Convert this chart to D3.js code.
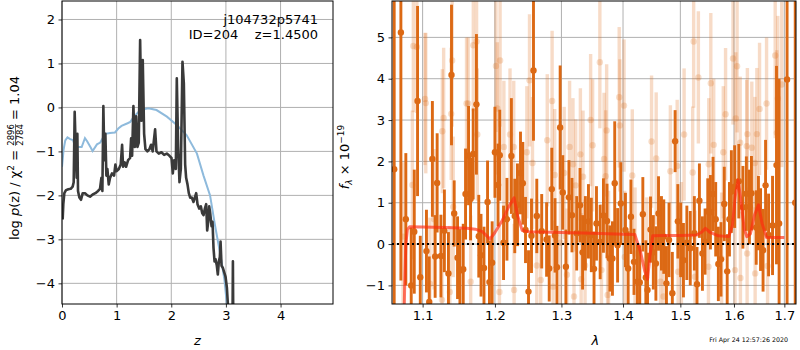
<!DOCTYPE html>
<html>
<head>
<meta charset="utf-8">
<script src="https://cdn.jsdelivr.net/npm/d3@7"></script>
<style>
  body { margin: 0; background: #fff; }
  svg { display: block; font-family: "DejaVu Sans", sans-serif; }
</style>
</head>
<body>
<svg id="chart" width="800" height="350"></svg>
<script>
// ---- p(z) panel ----
const zPz = [0.012, 0.024, 0.043, 0.073, 0.116, 0.159, 0.195, 0.214, 0.232, 0.25, 0.269, 0.281, 0.293, 0.318,
  0.348, 0.379, 0.421, 0.464, 0.513, 0.562, 0.611, 0.66, 0.696, 0.721, 0.739, 0.757, 0.776, 0.794, 0.812,
  0.831, 0.855, 0.88, 0.916, 0.953, 0.977, 1.0, 1.04, 1.075, 1.1, 1.118, 1.148, 1.173, 1.21, 1.246, 1.265,
  1.283, 1.307, 1.332, 1.356, 1.381, 1.405, 1.43, 1.454, 1.478, 1.503, 1.527, 1.564, 1.6, 1.63, 1.66, 1.704,
  1.729, 1.772, 1.82, 1.869, 1.918, 1.967, 2.004, 2.028, 2.053, 2.083, 2.101, 2.126, 2.15, 2.175, 2.205,
  2.23, 2.254, 2.272, 2.297, 2.321, 2.346, 2.376, 2.407, 2.431, 2.456, 2.48, 2.511, 2.541, 2.566, 2.59,
  2.615, 2.639, 2.657, 2.676, 2.694, 2.712, 2.737, 2.755, 2.773, 2.792, 2.81, 2.834, 2.852, 2.871, 2.889,
  2.902, 2.92, 2.944, 2.969, 2.993, 3.018, 3.042, 3.08, 3.115, 3.128, 3.14]
const logPz = [-2.55, -2.2, -1.95, -1.88, -1.86, -1.85, -1.8, -1.7, -0.1, -0.9, -1.6, -0.6, -1.9, -2.05,
  -2.1, -1.95, -1.95, -2.0, -2.03, -1.98, -1.95, -1.9, -1.85, -1.6, -1.9, 0.03, -1.2, -0.6, -1.55,
  -1.4, -1.75, -1.6, -1.5, -1.55, -1.3, -1.45, -1.4, -1.3, -0.85, -1.35, -1.25, -1.35, -1.2, -1.15, -0.7,
  -1.1, 0.03, -0.9, -0.2, -0.9, -0.8, 1.53, -0.3, 1.08, -0.6, -0.95, -1.0, -0.95, -0.85, -1.0, -0.5,
  -1.0, -1.05, -1.02, -1.08, -1.05, -1.1, -1.15, -1.5, -1.2, -1.4, 0.66, -0.9, -1.7, -1.4, 1.04,
  0.55, -1.3, -1.6, -1.75, -1.95, -2.05, -2.05, -2.15, -2.05, -1.95, -2.2, -2.3, -2.25, -2.4, -2.45,
  -2.3, -2.2, -2.8, -2.6, -2.25, -2.4, -2.7, -2.6, -3.2, -3.5, -3.45, -3.6, -3.8, -3.5, -3.4,
  -3.05, -3.6, -3.65, -3.75, -3.85, -4.1, -4.6, -6, -6, -3.5, -6]

const zChi = [0.0, 0.03, 0.06, 0.1, 0.15, 0.2, 0.24, 0.3, 0.36, 0.42, 0.46, 0.52, 0.56, 0.64, 0.7, 0.79,
  0.88, 0.97, 1.03, 1.09, 1.2, 1.25, 1.31, 1.43, 1.58, 1.73, 1.92, 2.1, 2.28, 2.47, 2.59, 2.71, 2.8,
  2.9, 2.97, 3.02, 3.06]
const chiCurve = [-1.35, -0.95, -0.75, -0.68, -0.72, -0.74, -0.88, -0.9, -0.9, -0.7, -0.77, -0.9, -0.99,
  -0.84, -0.8, -0.6, -0.58, -0.57, -0.48, -0.42, -0.36, -0.33, -0.22, -0.06, -0.02, -0.06, -0.21, -0.4,
  -0.63, -1.05, -1.55, -2.0, -2.68, -3.36, -3.89, -4.5, -5.2]

const zTicks = [0, 1, 2, 3, 4]
const pzTicks = [-4, -3, -2, -1, 0, 1, 2]

// ---- spectrum panel ----
const lamDark = [1.0630, 1.0716, 1.0780, 1.0850, 1.0890, 1.0933, 1.0969, 1.1051, 1.1088, 1.1130, 1.1167,
  1.1194, 1.1245, 1.1292, 1.1347, 1.1389, 1.1426, 1.1472, 1.1505, 1.1551, 1.1583, 1.1625, 1.1653, 1.1690,
  1.1736, 1.1769, 1.1801, 1.1843, 1.1894, 1.1921, 1.1960, 1.2000, 1.2045, 1.2070, 1.2125, 1.2175, 1.2240,
  1.2290, 1.2330, 1.2375, 1.2410, 1.2450, 1.2495, 1.2540, 1.2570, 1.2620, 1.2695, 1.2770, 1.2810, 1.2850,
  1.2900, 1.2930, 1.2980, 1.3021, 1.3070, 1.3118, 1.3166, 1.3241, 1.3294, 1.3335, 1.3380, 1.3430, 1.3476,
  1.3520, 1.3560, 1.3620, 1.3674, 1.3733, 1.3781, 1.3823, 1.3861, 1.3909, 1.3963, 1.4041, 1.4087, 1.4134,
  1.4186, 1.4244, 1.4285, 1.4338, 1.4390, 1.4419, 1.4471, 1.4520, 1.4565, 1.4611, 1.4663, 1.4704, 1.4751,
  1.4797, 1.4856, 1.4906, 1.4955, 1.5006, 1.5056, 1.5118, 1.5180, 1.5255, 1.5304, 1.5348, 1.5404, 1.5453,
  1.5503, 1.5553, 1.5602, 1.5652, 1.5702, 1.5752, 1.5814, 1.5870, 1.5913, 1.5950, 1.6013, 1.6093, 1.6173,
  1.6240, 1.6300, 1.6340, 1.6434, 1.6478, 1.6520, 1.6570, 1.6620, 1.6680, 1.6760, 1.6840, 1.6893, 1.7056,
  1.7224]
const fluxDark = [1.81, 5.12, 0.60, -1.00, 0.30, 3.46, -0.80, -0.17, -1.40, 2.06, -0.30,
  1.48, -0.29, 0.32, -0.71, 4.09, 0.74, -0.33, -0.64, -0.61, 1.21, 2.14, 1.09, 2.18,
  3.38, 0.19, -0.27, -0.58, 1.02, -0.92, -0.45, 2.22, 1.43, 2.15, 0.03, 0.60, 2.13,
  0.68, 0.95, 1.72, 1.47, 0.34, -1.15, 0.20, 4.20, 0.68, 0.31, 0.11, -0.59, 1.33,
  0.21, -0.56, 2.82, 1.25, -0.55, 1.13, 0.70, 0.26, 0.94, -0.20, 0.26, 0.55, 0.22,
  -0.60, 0.50, 0.05, 0.69, 0.56, -0.35, -0.35, 1.47, -0.03, 0.98, 0.34, -0.59, 0.66,
  -0.43, -0.91, -0.93, 0.72, -0.81, -1.11, 0.35, -0.20, -0.47, 0.74, 0.26, 0.18, -0.95,
  0.10, -1.19, 2.49, 0.55, 0.10, -0.39, 0.03, -0.10, 0.26, -0.97, 1.05, -0.23, 0.06,
  0.79, 0.77, 1.21, 0.60, -0.48, -0.37, 0.97, -0.66, 0.60, 1.27, 1.39, 1.52, 0.89,
  1.22, 0.90, 1.23, 0.40, 0.75, 0.35, -0.15, 1.42, 0.22, 0.45, 1.91, 0.50, 3.98,
  1.00]
const errDark = [5, 6, 1.6, 1.4, 1.5, 2.3, 1.0, 1.0, 1.1, 1.4, 1.0,
  1.2, 1.0, 1.0, 1.0, 1.7, 0.8, 1.0, 1.0, 1.1, 1.1, 1.2, 1.0, 1.1,
  1.7, 1.0, 1.0, 1.0, 1.0, 1.0, 1.0, 1.1, 1.0, 1.1, 0.9, 1.0, 1.4,
  0.9, 1.0, 1.0, 1.0, 0.8, 1.0, 0.9, 1.7, 0.9, 0.9, 0.9, 0.8, 1.0,
  0.9, 1.0, 1.5, 0.9, 0.9, 0.9, 0.9, 0.9, 0.9, 0.9, 0.9, 0.9, 0.9,
  0.9, 0.9, 0.9, 0.9, 0.9, 0.8, 0.9, 1.5, 0.9, 1.0, 0.9, 0.9, 0.9,
  0.8, 0.9, 0.9, 0.9, 0.9, 0.9, 0.8, 0.9, 0.9, 0.9, 0.9, 0.9, 0.9,
  0.9, 1.0, 0.75, 0.9, 0.9, 0.9, 0.9, 0.9, 0.9, 0.9, 0.9, 0.9, 0.8,
  0.8, 0.9, 0.9, 0.9, 0.9, 0.9, 0.9, 0.9, 0.9, 1.0, 1.0, 0.9, 1.0,
  0.9, 0.9, 0.9, 0.9, 0.9, 1.0, 1.0, 1.1, 1.0, 1.2, 2.4, 3.5, 8,
  8]

const lamLight = [1.0744, 1.0865, 1.0878, 1.0924, 1.1032, 1.1042, 1.1097, 1.1153, 1.1259, 1.1264, 1.1282,
  1.1366, 1.1385, 1.1398, 1.1412, 1.1597, 1.1620, 1.1655, 1.1692, 1.1738, 1.1748, 1.2015, 1.2035, 1.2065,
  1.2075, 1.2130, 1.2220, 1.2275, 1.2280, 1.2470, 1.2510, 1.2555, 1.2620, 1.2680, 1.2780, 1.2855, 1.2870,
  1.2895, 1.2985, 1.3043, 1.3086, 1.3128, 1.3182, 1.3198, 1.3225, 1.3300, 1.3312, 1.3342, 1.3375, 1.3465,
  1.3497, 1.3615, 1.3642, 1.3684, 1.3711, 1.3727, 1.3743, 1.3759, 1.3936, 1.3947, 1.4017, 1.4029, 1.4157,
  1.4204, 1.4407, 1.4489, 1.4570, 1.4646, 1.4698, 1.4821, 1.4943, 1.4960, 1.5019, 1.5068, 1.5224, 1.5242,
  1.5267, 1.5329, 1.5516, 1.5522, 1.5560, 1.5615, 1.5764, 1.5795, 1.5839, 1.5981, 1.6020, 1.6035, 1.6060,
  1.6120, 1.6125, 1.6247, 1.6255, 1.6260, 1.6347, 1.6407, 1.6413, 1.6447, 1.6500, 1.6640, 1.6660, 1.6814,
  1.6847, 1.6867, 1.6947]
const fluxLight = [0.18, 1.43, 4.79, 4.77, 3.51, 3.41, -0.96, 0.60, -1.35, 2.73, 3.05,
  -1.16, 3.15, 4.44, 0.90, 3.40, 3.40, -0.91, 4.81, 4.90, 2.65, 4.31, 3.28, -1.16,
  4.44, 2.35, 2.65, 2.35, -1.11, 2.22, 3.96, 1.96, -0.52, -0.87, 2.51, 3.46, -1.03,
  1.67, 0.03, 1.72, -0.74, 2.35, 1.93, -1.27, 1.42, 2.17, -0.85, 1.63, -0.52, 3.00,
  2.39, 4.40, -0.63, 2.06, 1.64, 2.75, -1.23, -0.31, 3.55, 2.87, 3.35, -0.31, 1.66,
  -0.23, -0.47, 2.48, 2.07, -0.91, -1.27, 1.76, 1.89, -0.67, -0.10, 2.65, 1.73, 4.90,
  -0.79, 4.03, -0.55, 1.93, 3.89, 2.40, -0.35, 2.22, 3.14, 4.49, -0.63, 3.04, 4.30,
  2.45, -0.82, 2.37, -0.23, 2.66, 2.33, 1.96, -0.71, 2.66, 3.27, 3.40, -0.53, 4.56,
  2.69, 3.52, 3.86]
const errLight = [1.8, 1.8, 1.6, 1.6, 1.6, 1.7, 1.6, 1.7, 1.6, 1.5, 1.7,
  1.6, 1.6, 1.6, 1.7, 1.6, 1.6, 1.6, 1.6, 1.6, 1.6, 1.6, 1.6, 1.6,
  1.6, 1.6, 1.6, 1.6, 1.6, 1.6, 1.6, 1.6, 1.6, 1.6, 1.6, 1.7, 1.6,
  1.6, 1.6, 1.6, 1.6, 1.6, 1.6, 1.6, 1.6, 1.6, 1.6, 1.6, 1.6, 1.6,
  1.6, 1.6, 1.6, 1.6, 1.6, 1.6, 1.6, 1.6, 1.7, 1.6, 1.6, 1.6, 1.6,
  1.6, 1.6, 1.6, 1.6, 1.6, 1.6, 1.6, 1.6, 1.6, 1.6, 1.6, 1.6, 1.6,
  1.6, 1.6, 1.6, 1.6, 1.7, 1.6, 1.6, 1.6, 1.6, 1.6, 1.6, 1.6, 1.6,
  1.6, 1.6, 1.6, 1.6, 1.6, 1.6, 1.6, 1.6, 1.6, 1.6, 1.6, 1.6, 2.0,
  2.0, 2.0, 2.0]

const lamModel = [1.0745, 1.0765, 1.078, 1.080, 1.083, 1.10, 1.13, 1.16, 1.172, 1.182, 1.193, 1.20, 1.21,
  1.22, 1.228, 1.233, 1.240, 1.25, 1.30, 1.35, 1.40, 1.42, 1.43, 1.437, 1.442, 1.446, 1.451, 1.47, 1.50,
  1.53, 1.540, 1.546, 1.555, 1.57, 1.59, 1.597, 1.603, 1.608, 1.613, 1.620, 1.625, 1.632, 1.640, 1.648,
  1.655, 1.664, 1.68, 1.70]
const fluxModel = [-3.0, -1.0, 0.0, 0.35, 0.42, 0.41, 0.40, 0.38, 0.36, 0.30, 0.12, 0.28, 0.55,
  0.90, 1.12, 0.70, 0.33, 0.30, 0.28, 0.26, 0.24, 0.23, -0.2, -0.65, -0.85, -0.3, 0.2, 0.21, 0.21,
  0.22, 0.30, 0.38, 0.28, 0.20, 0.18, 0.45, 1.20, 1.55, 1.10, 0.35, 0.18, 0.25, 0.70, 0.95,
  0.50, 0.16, 0.16, 0.16]

const lamTicks = [1.1, 1.2, 1.3, 1.4, 1.5, 1.6, 1.7]
const fluxTicks = [-1, 0, 1, 2, 3, 4, 5]

const stamp = 'Fri Apr 24 12:57:26 2020'

const svg = d3.select('#chart')
const fmt = d => String(d).replace('-', '\u2212')
const darkOrange = '#dc6914'
const nb = s => s.replace(/ /g, '\u00a0')

function frame(g, x, y, xTicks, yTicks, w, h) {
  g.append('g').selectAll('line').data(xTicks).join('line')
    .attr('x1', d => x(d)).attr('x2', d => x(d)).attr('y1', 0).attr('y2', h)
    .attr('stroke', '#b0b0b0').attr('stroke-width', 1)
  g.append('g').selectAll('line').data(yTicks).join('line')
    .attr('y1', d => y(d)).attr('y2', d => y(d)).attr('x1', 0).attr('x2', w)
    .attr('stroke', '#b0b0b0').attr('stroke-width', 1)
}

function axes(g, x, y, xTicks, yTicks, w, h) {
  const ax = g.append('g').attr('transform', `translate(0,${h})`)
    .call(d3.axisBottom(x).tickValues(xTicks).tickFormat(fmt).tickSizeInner(3.5).tickSizeOuter(0).tickPadding(3.5))
  const ay = g.append('g')
    .call(d3.axisLeft(y).tickValues(yTicks).tickFormat(fmt).tickSizeInner(3.5).tickSizeOuter(0).tickPadding(3.5))
  for (const a of [ax, ay]) {
    a.select('.domain').remove()
    a.selectAll('text').attr('font-size', 13).attr('fill', '#000').attr('font-family', '"DejaVu Sans", sans-serif')
    a.selectAll('line').attr('stroke', '#000').attr('stroke-width', 0.8)
  }
  g.append('rect').attr('width', w).attr('height', h)
    .attr('fill', 'none').attr('stroke', '#000').attr('stroke-width', 1)
}

// ---- left panel ----
{
  const m = { left: 62, top: 1, w: 271, h: 303 }
  const g = svg.append('g').attr('transform', `translate(${m.left},${m.top})`)
  const x = d3.scaleLinear().domain([0, 4.96]).range([0, m.w])
  const y = d3.scaleLinear().domain([-4.47, 2.42]).range([m.h, 0])

  g.append('clipPath').attr('id', 'clipL').append('rect').attr('width', m.w).attr('height', m.h)
  frame(g, x, y, zTicks, pzTicks, m.w, m.h)

  const plot = g.append('g').attr('clip-path', 'url(#clipL)')
  const line = d3.line().x(d => x(d[0])).y(d => y(d[1]))
  plot.append('path').datum(d3.zip(zChi, chiCurve))
    .attr('d', line).attr('fill', 'none').attr('stroke', '#8ebadc').attr('stroke-width', 2)
  plot.append('path').datum(d3.zip(zPz, logPz))
    .attr('d', line).attr('fill', 'none').attr('stroke', '#3a3a3a').attr('stroke-width', 2.6)
    .attr('stroke-linejoin', 'round')

  axes(g, x, y, zTicks, pzTicks, m.w, m.h)

  const ann = g.append('g').attr('font-size', 13).attr('text-anchor', 'end')
  ann.append('text').attr('x', 256).attr('y', 23).text('j104732p5741')
  ann.append('text').attr('x', 256).attr('y', 38).text(nb('ID=204    z=1.4500'))

  g.append('text').attr('x', m.w / 2).attr('y', 344).attr('text-anchor', 'middle')
    .attr('font-size', 13).attr('font-style', 'italic').text('z')

  // y label with stacked fraction
  const lab = svg.append('g').attr('transform', 'translate(19,158) rotate(-90)').attr('font-size', 13)
  const t1 = lab.append('text').attr('x', 0).attr('y', 0)
  t1.append('tspan').text(nb('log '))
  t1.append('tspan').attr('font-style', 'italic').text('p')
  t1.append('tspan').text(nb('(z) / \u03c7'))
  t1.append('tspan').attr('font-size', 9).attr('dy', -5).text('2')
  t1.append('tspan').attr('dy', 5).text(nb(' = '))
  const w1 = t1.node().getComputedTextLength()
  const num = lab.append('text').attr('x', w1).attr('y', -5).attr('font-size', 8.5).text('2896')
  lab.append('text').attr('x', w1).attr('y', 4).attr('font-size', 8.5).text('2784')
  const wf = num.node().getComputedTextLength()
  lab.append('line').attr('x1', w1).attr('x2', w1 + wf).attr('y1', -3.5).attr('y2', -3.5)
    .attr('stroke', '#000').attr('stroke-width', 0.6)
  const t2 = lab.append('text').attr('x', w1 + wf).attr('y', 0).text(nb(' = 1.04'))
  const total = w1 + wf + t2.node().getComputedTextLength()
  lab.selectAll('*').attr('transform', `translate(${-total / 2},0)`)
}

// ---- right panel ----
{
  const m = { left: 392, top: 1, w: 404, h: 303 }
  const g = svg.append('g').attr('transform', `translate(${m.left},${m.top})`)
  const x = d3.scaleLog().domain([1.0602, 1.724]).range([0, m.w])
  const y = d3.scaleLinear().domain([-1.45, 5.88]).range([m.h, 0])

  g.append('clipPath').attr('id', 'clipR').append('rect').attr('width', m.w).attr('height', m.h)
  frame(g, x, y, lamTicks, fluxTicks, m.w, m.h)

  const plot = g.append('g').attr('clip-path', 'url(#clipR)')
  const light = lamLight.map((l, i) => ({ l, f: fluxLight[i], e: errLight[i] }))
  const dark = lamDark.map((l, i) => ({ l, f: fluxDark[i], e: errDark[i] }))

  const lg = plot.append('g')
  lg.selectAll('line').data(light).join('line')
    .attr('x1', d => x(d.l)).attr('x2', d => x(d.l))
    .attr('y1', d => y(d.f - d.e)).attr('y2', d => y(d.f + d.e))
    .attr('stroke', darkOrange).attr('stroke-opacity', 0.24).attr('stroke-width', 3.4)
  lg.selectAll('circle').data(light).join('circle')
    .attr('cx', d => x(d.l)).attr('cy', d => y(d.f)).attr('r', 3.2)
    .attr('fill', darkOrange).attr('fill-opacity', 0.22)

  const dg = plot.append('g')
  dg.selectAll('line').data(dark).join('line')
    .attr('x1', d => x(d.l)).attr('x2', d => x(d.l))
    .attr('y1', d => y(d.f - d.e)).attr('y2', d => y(d.f + d.e))
    .attr('stroke', darkOrange).attr('stroke-width', 2.9)
  dg.selectAll('circle').data(dark).join('circle')
    .attr('cx', d => x(d.l)).attr('cy', d => y(d.f)).attr('r', 3.2)
    .attr('fill', darkOrange)

  plot.append('path').datum(d3.zip(lamModel, fluxModel))
    .attr('d', d3.line().x(d => x(d[0])).y(d => y(d[1])))
    .attr('fill', 'none').attr('stroke', '#ff2a10').attr('stroke-opacity', 0.65)
    .attr('stroke-width', 3).attr('stroke-linejoin', 'round')

  plot.append('line').attr('x1', 0).attr('x2', m.w).attr('y1', y(0)).attr('y2', y(0))
    .attr('stroke', '#000').attr('stroke-width', 2).attr('stroke-dasharray', '2,3')

  axes(g, x, y, lamTicks, fluxTicks, m.w, m.h)

  g.append('text').attr('x', x(1.3) + 34).attr('y', 344).attr('text-anchor', 'middle')
    .attr('font-size', 13).attr('font-style', 'italic').text('\u03bb')

  const yl = svg.append('text').attr('transform', 'translate(349,157) rotate(-90)')
    .attr('text-anchor', 'middle').attr('font-size', 13)
  yl.append('tspan').attr('font-style', 'italic').text('f')
  yl.append('tspan').attr('font-size', 9).attr('font-style', 'italic').attr('dy', 3).text('\u03bb')
  yl.append('tspan').attr('dy', -3).text(nb(' \u00d7 10'))
  yl.append('tspan').attr('font-size', 9).attr('dy', -5).text('\u221219')

  svg.append('text').attr('x', 788).attr('y', 342).attr('text-anchor', 'end')
    .attr('font-size', 6.3).text(stamp)
}
</script>
</body>
</html>
